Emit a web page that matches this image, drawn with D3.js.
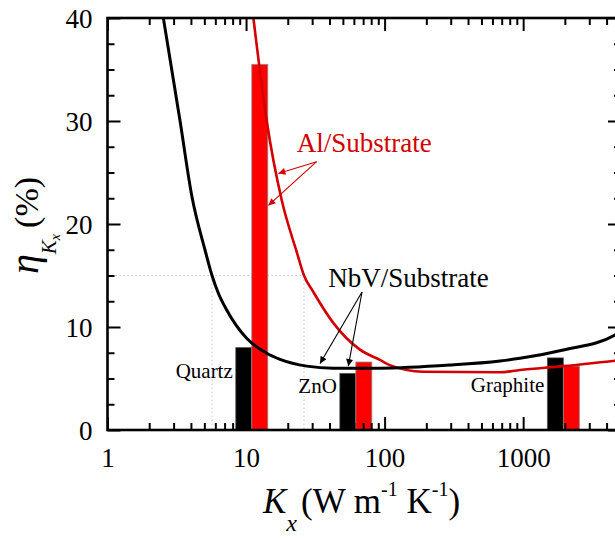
<!DOCTYPE html>
<html>
<head>
<meta charset="utf-8">
<script src="https://cdn.jsdelivr.net/npm/d3@7"></script>
<style>
  body { margin: 0; background: #fff; }
  svg { display: block; }
</style>
</head>
<body>
<svg id="chart"></svg>
<script>
// curves (K in W/m/K, eta in %)
const nbvK   = [2.53, 3.34, 4.05, 5.05, 5.68, 6.3, 7.25, 10.1, 14.1, 17.6, 27.4, 42.6, 92.6, 296, 681, 949, 1950, 4600, 5000];
const nbvEta = [40, 30, 22.8, 17.5, 15, 13.3, 11.65, 8.9, 7.45, 6.86, 6.2, 6.0, 6.0, 6.3, 6.7, 6.96, 7.77, 9.22, 9.6];

const alK   = [11.3, 14.1, 18.1, 23.2, 26.2, 30.6, 42.6, 66.4, 92.6, 109, 190, 681, 949, 1950, 4600, 5000];
const alEta = [40, 30, 22.3, 17.3, 15, 13.4, 10.4, 7.8, 6.8, 6.3, 5.66, 5.6, 5.83, 6.2, 6.73, 6.78];

// bars per substrate
const substrates = ["Quartz", "ZnO", "Graphite"];
const substrateK = [11, 62, 1950];
const nbvBar = [8.0, 5.5, 7.0];
const alBar  = [35.5, 6.6, 6.2];
const labelEta = [5.05, 3.56, 3.72];

// dotted guides at 15 %
const guideEta = 15;
const guideK = [5.68, 26.2];

// ticks
const kMajor = [1, 10, 100, 1000];
const etaMajor = [0, 10, 20, 30, 40];
const etaMinor = [2.5, 5, 7.5, 12.5, 15, 17.5, 22.5, 25, 27.5, 32.5, 35, 37.5];

// annotations (data coords)
const alText = [23.2, 27.0];
const alArrowFrom = [32.3, 26.05];
const alArrowTo = [[17.1, 24.9], [14.5, 21.8]];
const nbvText = [39.2, 13.9];
const nbvArrowFrom = [68.7, 13.4];
const nbvArrowTo = [[34.2, 6.45], [54.7, 6.2]];

const W = 615, H = 538;
const pl = 107.5, pr = 620, pt = 18, pb = 430;
const barW = 16;
const red = "#d20000";

const svg = d3.select("#chart").attr("width", W).attr("height", H);

const x = d3.scaleLog().domain([1, 5000]).range([pl, pr]);
const y = d3.scaleLinear().domain([0, 40]).range([pb, pt]);

const defs = svg.append("defs");
defs.append("clipPath").attr("id", "plot")
  .append("rect").attr("x", pl).attr("y", pt)
  .attr("width", pr - pl).attr("height", pb - pt);

["arrRed", "arrBlack"].forEach((id, i) => {
  defs.append("marker")
    .attr("id", id)
    .attr("viewBox", "0 0 10 10")
    .attr("refX", 10).attr("refY", 5)
    .attr("markerWidth", 9).attr("markerHeight", 7)
    .attr("markerUnits", "userSpaceOnUse")
    .attr("orient", "auto")
    .append("path").attr("d", "M0,0 L10,5 L0,10 Z")
    .attr("fill", i === 0 ? red : "#000");
});

// dotted guides
const guides = svg.append("g").attr("stroke", "#c4c4c4").attr("stroke-width", 1)
  .attr("stroke-dasharray", "1.5,2.5").attr("fill", "none");
guides.append("line")
  .attr("x1", x(1)).attr("x2", x(d3.max(guideK)))
  .attr("y1", y(guideEta)).attr("y2", y(guideEta));
guides.selectAll(".v").data(guideK).join("line")
  .attr("x1", d => x(d)).attr("x2", d => x(d))
  .attr("y1", y(guideEta)).attr("y2", y(0));

// bars
const bars = svg.append("g");
bars.selectAll(".nb").data(substrateK).join("rect")
  .attr("class", "nb")
  .attr("x", d => x(d) - barW)
  .attr("y", (d, i) => y(nbvBar[i]))
  .attr("width", barW)
  .attr("height", (d, i) => y(0) - y(nbvBar[i]))
  .attr("fill", "#000").attr("stroke", "#555").attr("stroke-width", 0.8);
bars.selectAll(".al").data(substrateK).join("rect")
  .attr("class", "al")
  .attr("x", d => x(d))
  .attr("y", (d, i) => y(alBar[i]))
  .attr("width", barW)
  .attr("height", (d, i) => y(0) - y(alBar[i]))
  .attr("fill", "#ff0000").attr("stroke", "#8a8a8a").attr("stroke-width", 0.8);

svg.append("g").selectAll("text").data(substrates).join("text")
  .attr("x", (d, i) => x(substrateK[i]) - barW - 3)
  .attr("y", (d, i) => y(labelEta[i]))
  .attr("text-anchor", "end")
  .attr("font-size", 21)
  .text(d => d);

// curves
const line = d3.line().x(d => x(d[0])).y(d => y(d[1])).curve(d3.curveMonotoneX);
const curves = svg.append("g").attr("clip-path", "url(#plot)").attr("fill", "none");
curves.append("path").datum(d3.zip(alK, alEta))
  .attr("d", line).attr("stroke", red).attr("stroke-width", 2.6);
curves.append("path").datum(d3.zip(nbvK, nbvEta))
  .attr("d", line).attr("stroke", "#000").attr("stroke-width", 3);

// axes
function axisG(gen, tr) {
  const g = svg.append("g").attr("transform", tr).call(gen);
  g.select(".domain").remove();
  g.selectAll(".tick line").attr("stroke-width", 2);
  return g;
}
const kMinor = x.ticks().filter(d => kMajor.indexOf(d) < 0);

const xb = axisG(d3.axisBottom(x).tickValues(kMajor).tickSize(-13).tickPadding(0).tickFormat(d3.format("d")),
  `translate(0,${pb})`);
xb.selectAll("text").attr("font-size", 27).attr("dy", null).attr("y", 37);
axisG(d3.axisBottom(x).tickValues(kMinor).tickSize(-7).tickFormat(""), `translate(0,${pb})`);
axisG(d3.axisTop(x).tickValues(kMajor).tickSize(-13).tickFormat(""), `translate(0,${pt})`);
axisG(d3.axisTop(x).tickValues(kMinor).tickSize(-7).tickFormat(""), `translate(0,${pt})`);

const yl = axisG(d3.axisLeft(y).tickValues(etaMajor).tickSize(-13).tickPadding(15), `translate(${pl},0)`);
yl.selectAll("text").attr("font-size", 27).attr("dy", "0.34em");
axisG(d3.axisLeft(y).tickValues(etaMinor).tickSize(-7).tickFormat(""), `translate(${pl},0)`);
axisG(d3.axisRight(y).tickValues(etaMajor).tickSize(-12).tickFormat(""), `translate(${pr},0)`);
axisG(d3.axisRight(y).tickValues(etaMinor).tickSize(-6).tickFormat(""), `translate(${pr},0)`);

// frame
svg.append("rect").attr("x", pl).attr("y", pt)
  .attr("width", pr - pl).attr("height", pb - pt)
  .attr("fill", "none").attr("stroke", "#000").attr("stroke-width", 2.6);

// annotations
svg.append("text").attr("x", x(alText[0])).attr("y", y(alText[1]))
  .attr("font-size", 27).attr("fill", red).text("Al/Substrate");
svg.append("g").selectAll("line").data(alArrowTo).join("line")
  .attr("x1", x(alArrowFrom[0])).attr("y1", y(alArrowFrom[1]))
  .attr("x2", d => x(d[0])).attr("y2", d => y(d[1]))
  .attr("stroke", red).attr("stroke-width", 1.1).attr("marker-end", "url(#arrRed)");

svg.append("text").attr("x", x(nbvText[0])).attr("y", y(nbvText[1]))
  .attr("font-size", 27).attr("fill", "#000").text("NbV/Substrate");
svg.append("g").selectAll("line").data(nbvArrowTo).join("line")
  .attr("x1", x(nbvArrowFrom[0])).attr("y1", y(nbvArrowFrom[1]))
  .attr("x2", d => x(d[0])).attr("y2", d => y(d[1]))
  .attr("stroke", "#000").attr("stroke-width", 1.1).attr("marker-end", "url(#arrBlack)");

// axis titles
const xt = svg.append("text").attr("x", 263).attr("y", 513).attr("font-size", 35);
xt.append("tspan").attr("font-style", "italic").text("K");
xt.append("tspan").attr("font-style", "italic").attr("font-size", 24).attr("dy", 18).text("x");
xt.append("tspan").attr("dy", -18).attr("dx", 4).text("(W m");
xt.append("tspan").attr("font-size", 20).attr("dy", -17).text("-1");
xt.append("tspan").attr("dy", 17).text(" K");
xt.append("tspan").attr("font-size", 20).attr("dy", -17).text("-1");
xt.append("tspan").attr("dy", 17).text(")");

const yt = svg.append("text").attr("transform", "translate(38,274) rotate(-90)").attr("font-size", 34);
yt.append("tspan").attr("font-style", "italic").attr("font-size", 40).text("η");
yt.append("tspan").attr("font-style", "italic").attr("font-size", 21).attr("dy", 18).text("K");
yt.append("tspan").attr("font-style", "italic").attr("font-size", 14).attr("dy", 4).text("x");
yt.append("tspan").attr("dy", -22).attr("dx", 6).text("(%)");

// serif everywhere
svg.selectAll("text, g").style("font-family", "Liberation Serif");
</script>
</body>
</html>
